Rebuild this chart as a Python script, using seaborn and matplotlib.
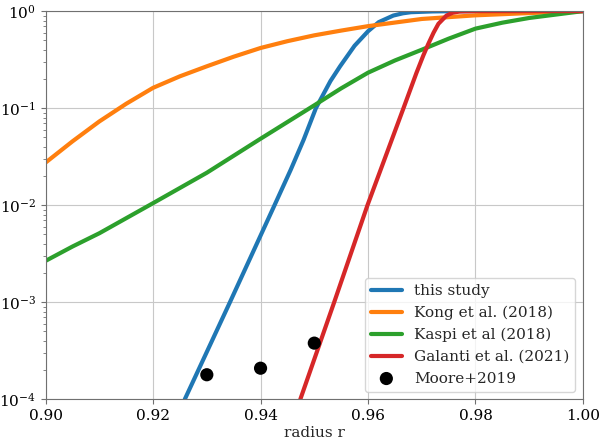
import numpy as np
import pandas as pd
import seaborn as sns
import matplotlib.pyplot as plt

# values
r_this = [0.9259, 0.9343, 0.9426, 0.9456, 0.9480, 0.9503, 0.9530, 0.9548, 0.9575, 0.9600,
          0.9620, 0.9647, 0.9665, 0.9680, 0.9720, 0.9760, 0.9800, 1.0000]
y_this = [1e-4, 1e-3, 1e-2, 0.0231, 0.047, 0.1, 0.19, 0.27, 0.44, 0.62,
          0.77, 0.90, 0.95, 0.975, 0.993, 0.999, 1.0, 1.0]

r_kong = [0.900, 0.905, 0.910, 0.915, 0.920, 0.925, 0.930, 0.935, 0.940, 0.945, 0.950,
          0.955, 0.960, 0.970, 0.980, 0.990, 1.000]
y_kong = [0.0275, 0.0455, 0.073, 0.111, 0.162, 0.213, 0.27, 0.339, 0.417, 0.49, 0.563,
          0.63, 0.70, 0.83, 0.905, 0.955, 1.0]

r_kaspi = [0.900, 0.905, 0.910, 0.920, 0.930, 0.940, 0.950, 0.955, 0.960, 0.965, 0.970,
           0.975, 0.980, 0.985, 0.990, 1.000]
y_kaspi = [0.00267, 0.00375, 0.00514, 0.0105, 0.0216, 0.0484, 0.107, 0.16, 0.232, 0.31, 0.40,
           0.52, 0.66, 0.76, 0.85, 1.0]

r_gal = [0.9474, 0.9537, 0.9599, 0.9666, 0.9690, 0.9703, 0.9712, 0.9722, 0.9731, 0.9746,
         0.9757, 0.9770, 0.9800, 1.0000]
y_gal = [1e-4, 1e-3, 1e-2, 0.1, 0.23, 0.35, 0.457, 0.60, 0.74, 0.90,
         0.96, 0.99, 1.0, 1.0]

r_moore = [0.93, 0.94, 0.95]
y_moore = [1.79e-4, 2.09e-4, 3.79e-4]

sns.set_style("ticks")
plt.rcParams['font.family'] = ['DejaVu Serif']
plt.rcParams['mathtext.fontset'] = 'dejavuserif'
plt.rcParams['font.size'] = 11

fig, ax = plt.subplots(figsize=(6.01, 4.41), dpi=100)
fig.subplots_adjust(left=0.0759, right=0.970, bottom=0.0946, top=0.9748)

pal = sns.color_palette("tab10")
sns.lineplot(x=r_this, y=y_this, ax=ax, color=pal[0], lw=3, label="this study")
sns.lineplot(x=r_kong, y=y_kong, ax=ax, color=pal[1], lw=3, label="Kong et al. (2018)")
sns.lineplot(x=r_kaspi, y=y_kaspi, ax=ax, color=pal[2], lw=3, label="Kaspi et al (2018)")
sns.lineplot(x=r_gal, y=y_gal, ax=ax, color=pal[3], lw=3, label="Galanti et al. (2021)")
sns.scatterplot(x=r_moore, y=y_moore, ax=ax, color="black", s=90, edgecolor="none",
                label="Moore+2019", zorder=5)

ax.set_yscale("log")
ax.set_xlim(0.90, 1.00)
ax.set_ylim(1e-4, 1)
ax.set_xticks([0.90, 0.92, 0.94, 0.96, 0.98, 1.00])
ax.set_xticklabels(["0.90", "0.92", "0.94", "0.96", "0.98", "1.00"])
ax.grid(True, which="major", color="#c8c8c8", lw=0.8)
ax.set_axisbelow(True)
for s in ax.spines.values():
    s.set_color("#707070")
ax.tick_params(colors="#707070", labelcolor="black", labelsize=11)
ax.tick_params(which="minor", colors="#707070")
ax.set_xlabel("radius r", fontsize=11, labelpad=2)
ax.set_ylabel("")

ax.legend(loc="lower right", fontsize=11)

plt.savefig("out.png", dpi=100)
